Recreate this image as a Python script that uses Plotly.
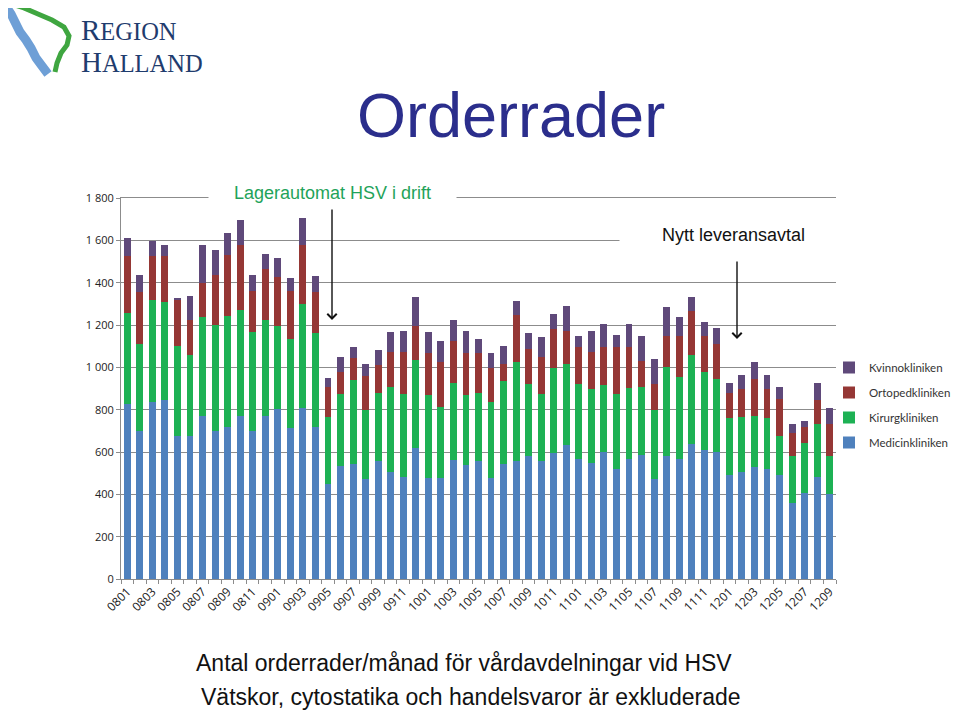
import plotly.graph_objects as go

months = ["0801","0802","0803","0804","0805","0806","0807","0808","0809","0810","0811","0812",
          "0901","0902","0903","0904","0905","0906","0907","0908","0909","0910","0911","0912",
          "1001","1002","1003","1004","1005","1006","1007","1008","1009","1010","1011","1012",
          "1101","1102","1103","1104","1105","1106","1107","1108","1109","1110","1111","1112",
          "1201","1202","1203","1204","1205","1206","1207","1208","1209"]

medicin = [827, 697, 835, 846, 676, 676, 772, 697, 720, 772, 697, 772,
           804, 712, 810, 719, 451, 536, 542, 471, 558, 504, 484, 621,
           479, 479, 564, 539, 558, 479, 544, 558, 582, 558, 594, 634,
           566, 550, 602, 519, 566, 585, 471, 582, 566, 638, 610, 599,
           492, 506, 528, 519, 493, 358, 405, 484, 402]
kirurg = [429, 414, 483, 465, 427, 380, 467, 504, 522, 498, 469, 454,
          389, 423, 489, 443, 316, 339, 399, 328, 323, 402, 388, 414,
          388, 334, 361, 329, 320, 359, 391, 466, 340, 317, 402, 383,
          356, 348, 315, 356, 335, 324, 328, 419, 386, 421, 370, 345,
          268, 261, 243, 242, 183, 224, 236, 249, 180]
ortoped = [271, 247, 209, 216, 216, 169, 159, 236, 288, 306, 196, 238,
           233, 227, 280, 193, 138, 105, 102, 162, 131, 167, 201, 158,
           203, 210, 200, 202, 192, 161, 80, 221, 164, 176, 186, 157,
           172, 174, 181, 219, 193, 122, 123, 145, 198, 208, 166, 165,
           118, 130, 175, 136, 175, 107, 76, 113, 151]
kvinno = [84, 79, 69, 49, 4, 111, 181, 118, 107, 121, 72, 71,
          92, 60, 125, 76, 45, 70, 52, 56, 69, 95, 101, 137,
          95, 102, 98, 104, 66, 68, 88, 68, 75, 92, 72, 118,
          52, 99, 106, 61, 111, 118, 117, 138, 86, 65, 69, 75,
          47, 69, 77, 69, 55, 42, 28, 79, 75]

tick_text = [m if i % 2 == 0 else "" for i, m in enumerate(months)]
y_ticks = [0, 200, 400, 600, 800, 1000, 1200, 1400, 1600, 1800]

series = [
    ("Medicinkliniken", medicin, "#4F81BD", 4),
    ("Kirurgkliniken", kirurg, "#1DB154", 3),
    ("Ortopedkliniken", ortoped, "#953735", 2),
    ("Kvinnokliniken", kvinno, "#5F497A", 1),
]

fig = go.Figure()
for name, vals, col, rank in series:
    fig.add_trace(go.Bar(x=months, y=vals, name=name, marker_color=col,
                         marker_line_width=0, legendgroup=name, legendrank=rank))

# the page places the figure 8 px from its top-left corner
OFF = 8
W, H = 960, 710 - OFF
L = 121 - OFF            # plot left (page 121)
T = 198 - OFF            # plot top (page 198)
R = W - (836 - OFF)      # plot right (page 836)
B = H - (579 - OFF)      # plot bottom (page 579)
PW, PH = W - L - R, H - T - B

def X(px):  # page pixel -> paper
    return (px - OFF - L) / PW

def Y(py):  # page pixel -> paper
    return (H - B - (py - OFF)) / PH

grid = "#8C8C8C"
fig.update_layout(
    width=W, height=H,
    margin=dict(l=L, r=R, t=T, b=B, pad=0, autoexpand=False),
    barmode="stack", bargap=0.45,
    paper_bgcolor="white", plot_bgcolor="white",
    separators=", ",
    font=dict(family="Open Sans", color="#222222"),
    xaxis=dict(type="category", tickmode="array", tickvals=months, ticktext=tick_text,
               tickson="boundaries", ticks="outside", ticklen=4, tickcolor=grid,
               showline=True, linecolor=grid, linewidth=1, tickangle=-45, mirror=True,
               tickfont=dict(family="Open Sans", size=12, color="#222222"),
               showgrid=False),
    yaxis=dict(range=[0, 1800], tickvals=y_ticks, separatethousands=True,
               ticks="outside", ticklen=4, tickcolor=grid,
               showline=True, linecolor=grid, linewidth=1,
               showgrid=True, gridcolor=grid, gridwidth=1, zeroline=False,
               tickfont=dict(family="Open Sans", size=11, color="#222222")),
    legend=dict(xref="container", yref="container",
                x=(829 - OFF) / W, y=1 - (353 - OFF) / H, xanchor="left", yanchor="top",
                traceorder="grouped", tracegroupgap=6,
                font=dict(family="Lato", size=11.5, color="#333333"),
                bgcolor="rgba(0,0,0,0)"),
    showlegend=True,
)

def txt(text, px, py, size, color, family="Liberation Sans", xanchor="center", **kw):
    return dict(text=text, x=X(px), y=Y(py), xref="paper", yref="paper",
                xanchor=xanchor, yanchor="middle", showarrow=False,
                font=dict(family=family, size=size, color=color), **kw)

ann = []
ann.append(txt("Orderrader", 511, 115, 63, "#2B2E8C"))
ann.append(txt("<span style='font-size:29px'>R</span>EGION<br>"
               "<span style='font-size:29px'>H</span>ALLAND",
               79, 46, 24.5, "#1F3C6E", family="Liberation Serif", xanchor="left", align="left"))
ann.append(txt("Lagerautomat HSV i drift", 332, 193, 18, "#1FA35A",
               width=245, height=20, bgcolor="white"))
ann.append(txt("Nytt leveransavtal", 733, 235, 18, "#111111",
               width=225, height=22, bgcolor="white"))
ann.append(txt("Antal orderrader/månad för vårdavdelningar vid HSV", 464, 663, 23, "#111111"))
ann.append(txt("Vätskor, cytostatika och handelsvaror är exkluderade", 471, 697, 23, "#111111"))
# arrows
ann.append(dict(text="", x=X(332), y=Y(320), xref="paper", yref="paper", showarrow=True,
                ax=0, ay=-112, arrowhead=4, arrowsize=1.3, arrowwidth=1.4, arrowcolor="#111111"))
ann.append(dict(text="", x=X(737), y=Y(339), xref="paper", yref="paper", showarrow=True,
                ax=0, ay=-79, arrowhead=4, arrowsize=1.3, arrowwidth=1.4, arrowcolor="#111111"))
fig.update_layout(annotations=ann)

def path(points):
    s = "M {:.4f} {:.4f}".format(X(points[0][0]), Y(points[0][1]))
    for px, py in points[1:]:
        s += " L {:.4f} {:.4f}".format(X(px), Y(py))
    return s

blue_pts = [(7, 8), (11, 14), (15, 22), (20, 32), (26, 40), (31, 48), (36, 58), (42, 66), (48, 74)]
green_pts = [(12, 4), (24, 8), (38, 14), (52, 20), (64, 27), (69, 36), (67, 45), (61, 53), (57, 63), (55, 72)]
fig.add_shape(type="path", path=path(blue_pts), xref="paper", yref="paper",
              line=dict(color="#6E9FD6", width=9))
fig.add_shape(type="path", path=path(green_pts), xref="paper", yref="paper",
              line=dict(color="#3FA640", width=5))

fig.write_html("out.html")
